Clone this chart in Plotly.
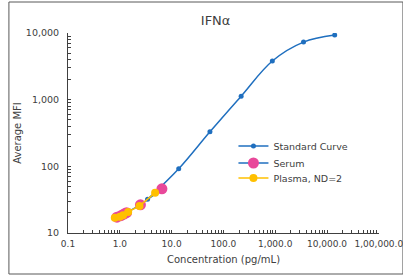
import plotly.graph_objects as go

# ---- data ----
std_conc = [3.43, 13.7, 54.9, 219.7, 878.9, 3515.6, 14062.5]
std_mfi = [32, 92, 330, 1130, 3800, 7300, 9300]

serum_conc = [0.88, 1.05, 1.2, 1.35, 2.5, 6.5]
serum_mfi = [17.3, 18.2, 19.2, 20.2, 26.5, 46]

plasma_conc = [0.8, 1.0, 1.16, 1.45, 2.4, 4.8]
plasma_mfi = [17.0, 17.6, 18.5, 20.7, 25.5, 40]

x_tickvals = [0.1, 1, 10, 100, 1000, 10000, 100000]
x_ticktext = ["0.1", "1.0", "10.0", "100.0", "1,000.0", "10,000.0", "1,00,000.0"]
y_tickvals = [10, 100, 1000, 10000]
y_ticktext = ["10", "100", "1,000", "10,000"]

BLUE = "#1F6FBF"
PINK = "#E8489A"
YELLOW = "#FFC000"
FONT = "DejaVu Sans"
TXT = "#404040"

fig = go.Figure()
fig.add_trace(go.Scatter(
    x=std_conc, y=std_mfi, name="Standard Curve", mode="lines+markers",
    line=dict(color=BLUE, width=1.5, shape="spline", smoothing=1.0),
    marker=dict(color=BLUE, size=5), legend="legend"))
fig.add_trace(go.Scatter(
    x=serum_conc, y=serum_mfi, name="Serum", mode="lines+markers",
    line=dict(color=BLUE, width=1.5),
    marker=dict(color=PINK, size=11), legend="legend2"))
fig.add_trace(go.Scatter(
    x=plasma_conc, y=plasma_mfi, name="Plasma, ND=2", mode="lines+markers",
    line=dict(color=YELLOW, width=1.5),
    marker=dict(color=YELLOW, size=8), legend="legend3"))

minor_x = [m * 10 ** e for e in range(-1, 5) for m in range(2, 10)]
minor_y = [m * 10 ** e for e in range(1, 4) for m in range(2, 10)]

def leg(y):
    return dict(x=0.532, y=y, xanchor="left", yanchor="middle",
                bgcolor="rgba(0,0,0,0)", font=dict(family=FONT, size=9.5, color=TXT),
                itemwidth=30)

fig.update_layout(
    width=403, height=276,
    margin=dict(l=68, r=24, t=33, b=43, autoexpand=False),
    paper_bgcolor="white", plot_bgcolor="white",
    font=dict(family=FONT, size=9, color=TXT),
    title=dict(text="IFNα", x=0.535, xanchor="center", y=0.925, yanchor="middle",
               font=dict(family=FONT, size=13, color=TXT)),
    showlegend=True,
    legend=leg(0.435), legend2=leg(0.35), legend3=leg(0.275),
    xaxis=dict(type="log", range=[-1, 5.003], tickvals=x_tickvals, ticktext=x_ticktext,
               automargin=False, ticklabeloverflow="allow",
               showgrid=False, zeroline=False, showline=True, linecolor=TXT, linewidth=1,
               ticks="inside", ticklen=3, tickcolor=TXT, ticklabelstandoff=2,
               minor=dict(tickvals=minor_x, ticks="inside", ticklen=3, tickcolor=TXT, showgrid=False),
               title=dict(text="Concentration (pg/mL)", standoff=8,
                          font=dict(family=FONT, size=10, color=TXT)),
               tickfont=dict(family=FONT, size=9, color=TXT)),
    yaxis=dict(type="log", range=[1, 4], tickvals=y_tickvals, ticktext=y_ticktext,
               automargin=False, ticklabeloverflow="allow",
               showgrid=False, zeroline=False, showline=True, linecolor=TXT, linewidth=1,
               ticks="inside", ticklen=3, tickcolor=TXT, ticklabelstandoff=6,
               minor=dict(tickvals=minor_y, ticks="inside", ticklen=3, tickcolor=TXT, showgrid=False),
               title=dict(text="Average MFI", standoff=2,
                          font=dict(family=FONT, size=10, color=TXT)),
               tickfont=dict(family=FONT, size=9.5, color=TXT)),
    shapes=[dict(type="rect", xref="paper", yref="paper",
                 x0=-0.19, x1=1.077, y0=-0.205, y1=1.155,
                 line=dict(color="#595959", width=1), fillcolor="rgba(0,0,0,0)", layer="below")],
)

fig.write_html("out.html", config={"displayModeBar": False},
               post_script="document.body.style.margin='0';document.documentElement.style.overflow='hidden';")
